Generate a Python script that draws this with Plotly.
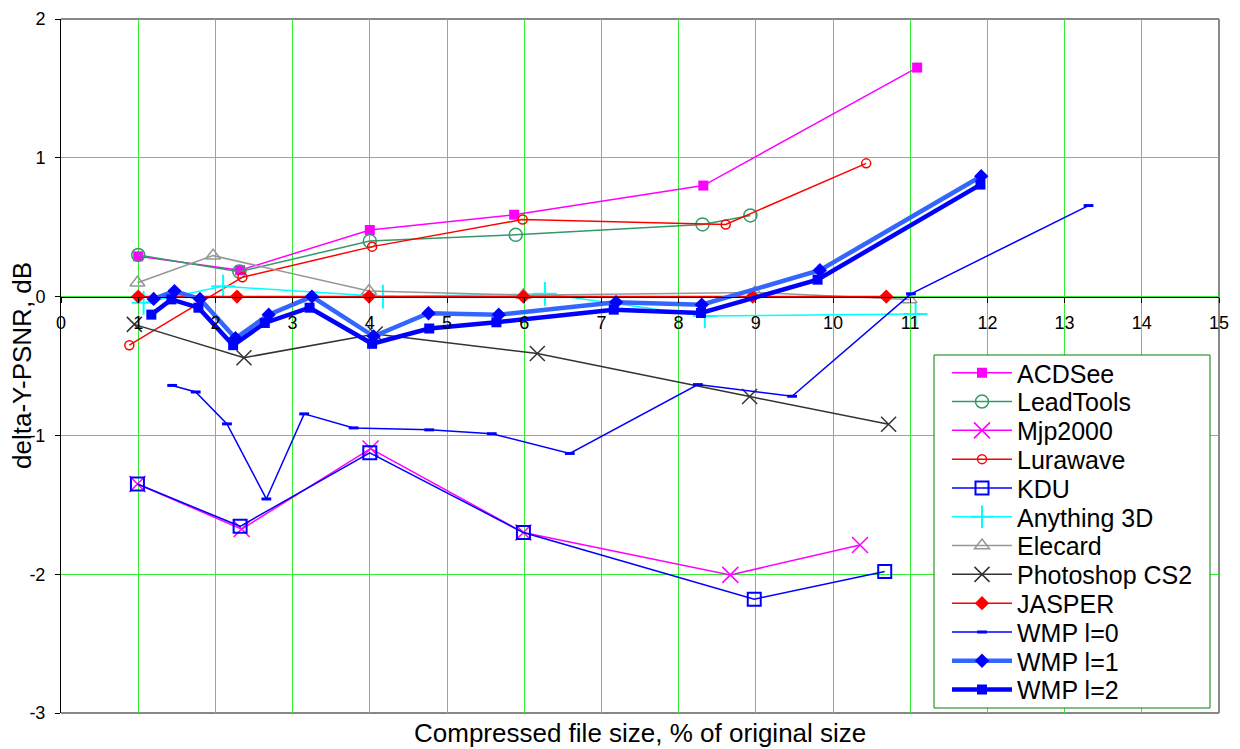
import plotly.graph_objects as go

# ---- data ----
acdsee_x = [1.0, 2.32, 4.0, 5.87, 8.32, 11.09]
acdsee_y = [0.29, 0.19, 0.48, 0.59, 0.80, 1.65]

leadtools_x = [1.0, 2.31, 4.0, 5.89, 8.31, 8.93]
leadtools_y = [0.30, 0.18, 0.40, 0.445, 0.52, 0.585]

mjp2000_x = [0.99, 2.34, 4.01, 5.99, 8.67, 10.35]
mjp2000_y = [-1.35, -1.675, -1.095, -1.70, -2.005, -1.79]

lurawave_x = [0.885, 2.35, 4.03, 5.98, 8.61, 10.43]
lurawave_y = [-0.35, 0.14, 0.36, 0.555, 0.52, 0.96]

kdu_x = [0.99, 2.32, 4.0, 5.99, 8.98, 10.67]
kdu_y = [-1.35, -1.655, -1.125, -1.70, -2.18, -1.98]

anything3d_x = [1.07, 2.10, 4.17, 6.27, 8.34, 11.07]
anything3d_y = [-0.045, 0.074, 0.0, 0.02, -0.14, -0.125]

elecard_x = [0.99, 1.97, 3.99, 5.99, 8.99, 10.99]
elecard_y = [0.10, 0.295, 0.04, 0.01, 0.03, -0.02]

photoshop_x = [0.95, 2.37, 4.07, 6.17, 8.92, 10.72]
photoshop_y = [-0.20, -0.44, -0.27, -0.41, -0.72, -0.92]

jasper_x = [1.0, 2.28, 3.99, 5.99, 8.96, 10.69]
jasper_y = [0.0, 0.0, 0.0, 0.0, 0.0, 0.0]

wmp0_x = [1.44, 1.745, 2.15, 2.66, 3.15, 3.79, 4.77, 5.58, 6.59, 8.25, 9.47, 11.01, 13.31]
wmp0_y = [-0.64, -0.687, -0.917, -1.458, -0.845, -0.946, -0.96, -0.988, -1.13, -0.634, -0.718, 0.02, 0.656]

wmp1_x = [1.2, 1.47, 1.80, 2.26, 2.69, 3.25, 4.05, 4.76, 5.67, 7.19, 8.30, 9.83, 11.92]
wmp1_y = [-0.017, 0.04, -0.017, -0.30, -0.13, 0.0, -0.286, -0.12, -0.13, -0.04, -0.058, 0.19, 0.867]

wmp2_x = [1.17, 1.43, 1.78, 2.23, 2.64, 3.22, 4.03, 4.77, 5.64, 7.16, 8.29, 9.80, 11.91]
wmp2_y = [-0.13, -0.02, -0.08, -0.35, -0.19, -0.08, -0.34, -0.23, -0.185, -0.094, -0.118, 0.122, 0.807]

x_ticks = list(range(0, 16))
y_ticks = [-3, -2, -1, 0, 1, 2]

FONT = "Liberation Sans, Arial, sans-serif"

# plot area geometry (pixels)
W, H = 1240, 749
ML, MR, MT, MB = 61, 21, 19, 36
PW, PH = W - ML - MR, H - MT - MB


def px_x(p):
    return (p - ML) / PW


def px_y(p):
    return (H - MB - p) / PH


fig = go.Figure()
legend_names = []


def add(name, xs, ys, line_color, line_width, symbol, size, mcolor, mline_color=None, mline_width=0):
    lid = "legend" if not legend_names else "legend%d" % (len(legend_names) + 1)
    legend_names.append(lid)
    fig.add_trace(go.Scatter(
        x=xs, y=ys, name=name, mode="lines+markers", legend=lid,
        line=dict(color=line_color, width=line_width),
        marker=dict(symbol=symbol, size=size, color=mcolor,
                    line=dict(color=mline_color or mcolor, width=mline_width)),
    ))


add("ACDSee", acdsee_x, acdsee_y, "#FF00FF", 1.5, "square", 10, "#FF00FF")
add("LeadTools", leadtools_x, leadtools_y, "#339966", 1.5, "circle-open", 13, "#339966", "#339966", 1.5)
add("Mjp2000", mjp2000_x, mjp2000_y, "#FF00FF", 1.5, "x-thin", 16, "#FF00FF", "#FF00FF", 1.5)
add("Lurawave", lurawave_x, lurawave_y, "#FF0000", 1.5, "circle-open", 9, "#FF0000", "#FF0000", 1.5)
add("KDU", kdu_x, kdu_y, "#0000FF", 1.5, "square-open", 13, "#0000FF", "#0000FF", 2)
add("Anything 3D", anything3d_x, anything3d_y, "#00FFFF", 1.5, "cross-thin", 17, "#00FFFF", "#00FFFF", 2)
add("Elecard", elecard_x, elecard_y, "#969696", 1.5, "triangle-up-open", 13, "#969696", "#969696", 1.5)
add("Photoshop CS2", photoshop_x, photoshop_y, "#333333", 1.5, "x-thin", 15, "#333333", "#333333", 1.5)
add("JASPER", jasper_x, jasper_y, "#FF0000", 1.5, "diamond", 11, "#FF0000")
add("WMP l=0", wmp0_x, wmp0_y, "#0000FF", 1.5, "line-ew", 7, "#0000FF", "#0000FF", 3)
add("WMP l=1", wmp1_x, wmp1_y, "#3366FF", 4.5, "diamond", 11, "#0000FF")
add("WMP l=2", wmp2_x, wmp2_y, "#0000FF", 4.5, "square", 10, "#0000FF")

GRID = "#33EE33"

# one legend per entry, stacked at the reference's tight row spacing
legend_layout = {}
ROW0, ROWSTEP = 373, 28.8
for i, lid in enumerate(legend_names):
    legend_layout[lid] = dict(
        x=px_x(947), y=px_y(ROW0 + i * ROWSTEP), xanchor="left", yanchor="middle",
        bgcolor="rgba(0,0,0,0)", borderwidth=0,
        font=dict(family=FONT, size=25, color="black"),
        itemwidth=60,
    )

fig.update_layout(
    width=W, height=H,
    margin=dict(l=ML, r=MR, t=MT, b=MB, autoexpand=False),
    paper_bgcolor="white", plot_bgcolor="white",
    font=dict(family=FONT, color="black", size=18),
    showlegend=True,
    xaxis=dict(
        range=[0, 15], tickmode="array", tickvals=x_ticks,
        ticktext=[str(v) for v in x_ticks],
        anchor="free", position=0.6, automargin=False,
        showline=True, linecolor="black", linewidth=1,
        ticks="outside", ticklen=5, tickcolor="black", tickwidth=1,
        showgrid=True, gridcolor=GRID, gridwidth=1, zeroline=False,
        tickfont=dict(family=FONT, size=18, color="black"),
        ticklabelstandoff=5,
    ),
    yaxis=dict(
        range=[-3, 2], tickmode="array", tickvals=y_ticks,
        ticktext=[str(v) for v in y_ticks], automargin=False,
        showline=True, linecolor="black", linewidth=1,
        ticks="outside", ticklen=5, tickcolor="black", tickwidth=1,
        showgrid=True, gridcolor=GRID, gridwidth=1, zeroline=False,
        tickfont=dict(family=FONT, size=18, color="black"),
        ticklabelstandoff=6,
    ),
    shapes=[
        dict(type="line", xref="paper", yref="paper", x0=0, x1=1, y0=1, y1=1,
             line=dict(color="#888888", width=2), layer="below"),
        dict(type="line", xref="paper", yref="paper", x0=1, x1=1, y0=0, y1=1,
             line=dict(color="#888888", width=2), layer="below"),
        dict(type="line", xref="paper", yref="paper", x0=0, x1=1, y0=0, y1=0,
             line=dict(color="#888888", width=2), layer="below"),
        # legend frame
        dict(type="rect", xref="paper", yref="paper",
             x0=px_x(934), x1=px_x(1210), y0=px_y(708), y1=px_y(355),
             fillcolor="white", line=dict(color="#008000", width=1), layer="above"),
    ],
    annotations=[
        dict(text="Compressed file size, % of original size", xref="paper", yref="paper",
             x=0.5, y=px_y(733), xanchor="center", yanchor="middle", showarrow=False,
             font=dict(family=FONT, size=26, color="black")),
        dict(text="delta-Y-PSNR, dB", xref="paper", yref="paper",
             x=px_x(22), y=0.5, xanchor="center", yanchor="middle", showarrow=False,
             textangle=-90, font=dict(family=FONT, size=26, color="black")),
    ],
)
fig.update_layout(**legend_layout)

fig.write_html("out.html")
